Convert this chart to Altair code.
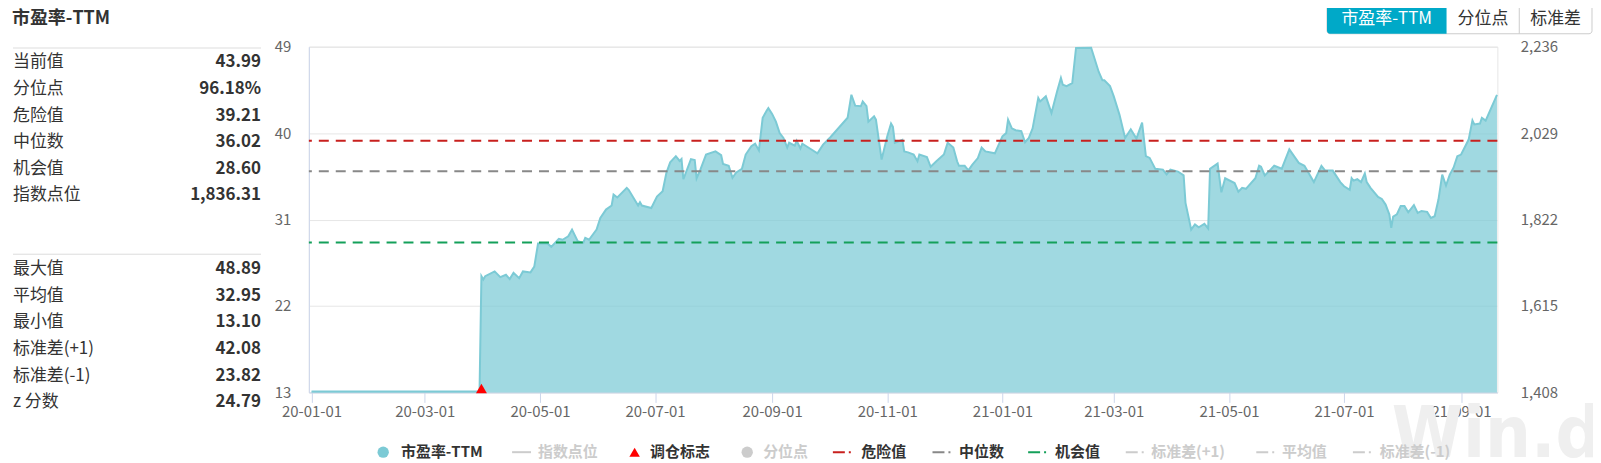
import altair as alt
import pandas as pd

FONT = "Noto Sans CJK SC"

# ---------------- data ----------------
START_DATE = "2020-01-01"
# trading-day offsets (days since START_DATE)
DAY_OFFSET = [
    0, 89, 90, 91, 92, 97, 100, 103, 105, 107, 110, 112, 116, 118, 120, 125, 127, 131, 133, 136,
    138, 141, 144, 145, 147, 151, 153, 156, 159, 160, 162, 167, 168, 173, 174, 175, 180, 183, 186, 188,
    190, 193, 195, 196, 197, 201, 203, 204, 206, 209, 214, 217, 218, 221, 223, 225, 228, 230, 233, 235,
    237, 239, 241, 242, 244, 246, 248, 250, 252, 253, 256, 257, 259, 260, 264, 268, 271, 275, 284, 286,
    288, 291, 292, 294, 295, 298, 299, 302, 305, 307, 308, 309, 313, 314, 316, 319, 321, 322, 326, 328,
    331, 335, 337, 340, 342, 343, 346, 348, 350, 353, 355, 357, 362, 366, 368, 369, 371, 373, 376, 378,
    380, 382, 385, 386, 389, 392, 395, 397, 398, 400, 403, 405, 413, 417, 419, 420, 423, 425, 428, 431,
    434, 437, 440, 442, 444, 447, 451, 453, 455, 459, 462, 463, 466, 468, 470, 473, 475, 476, 480, 481,
    482, 484, 489, 491, 493, 495, 500, 502, 503, 505, 510, 514, 518, 523, 526, 531, 535, 537, 541, 545,
    547, 550, 551, 552, 554, 556, 558, 559, 561, 565, 567, 569, 571, 572, 573, 575, 577, 579, 581, 584,
    586, 588, 591, 593, 595, 597, 599, 601, 603, 605, 607, 609, 613, 615, 616, 619, 620, 622, 628,
]
PE_TTM = [
    13.10, 13.10, 25.10, 24.76, 25.10, 25.60, 25.00, 25.25, 24.80, 25.45, 24.90, 25.60, 25.50, 26.10, 28.50, 28.50, 28.16, 29.00, 28.90, 29.26,
    29.96, 28.74, 28.60, 29.10, 28.90, 29.96, 31.17, 32.04, 32.46, 33.60, 33.30, 34.30, 34.10, 32.46, 32.80, 32.46, 32.20, 33.40, 33.95, 35.86,
    36.96, 37.60, 37.10, 37.30, 35.20, 37.30, 37.20, 35.30, 36.20, 37.77, 38.10, 37.70, 36.80, 36.60, 35.34, 35.90, 36.28, 37.77, 38.63, 38.90,
    38.20, 41.60, 42.30, 42.60, 42.00, 41.20, 40.00, 39.50, 38.50, 39.00, 38.70, 39.20, 38.40, 38.90, 38.40, 37.90, 38.80, 39.60, 41.60, 44.00,
    42.86, 42.80, 43.30, 42.80, 41.20, 41.75, 41.40, 37.25, 39.67, 41.00, 40.65, 39.00, 39.30, 38.10, 38.00, 37.77, 37.07, 37.77, 37.50, 36.50,
    37.07, 37.77, 39.00, 38.50, 37.07, 36.60, 36.60, 36.13, 36.70, 37.40, 38.50, 38.10, 37.90, 39.67, 40.00, 41.40, 40.50, 40.30, 40.20, 39.05,
    39.50, 40.50, 43.66, 43.30, 43.83, 42.10, 44.35, 45.75, 45.05, 44.90, 45.20, 48.87, 48.89, 46.40, 45.50, 45.50, 44.90, 43.83, 41.93, 39.50,
    40.40, 39.43, 41.10, 37.60, 37.42, 36.28, 36.20, 35.70, 36.20, 36.00, 35.60, 32.74, 29.96, 30.50, 30.20, 30.55, 30.07, 36.30, 36.83, 35.30,
    33.84, 35.30, 34.80, 33.90, 34.30, 34.20, 35.30, 36.60, 36.50, 35.60, 36.60, 36.30, 38.30, 36.90, 36.60, 34.90, 36.60, 36.10, 36.10, 34.90,
    34.47, 34.10, 35.30, 35.05, 35.20, 34.90, 35.80, 34.90, 34.30, 33.36, 33.15, 32.56, 31.52, 30.14, 31.30, 31.55, 32.40, 32.40, 31.75, 32.50,
    31.70, 31.90, 31.80, 31.17, 31.35, 33.08, 35.68, 34.55, 35.68, 36.40, 37.60, 37.77, 39.33, 41.33, 40.90, 41.00, 41.60, 41.30, 43.99,
]

DANGER = 39.21
MEDIAN = 36.02
CHANCE = 28.60
REBALANCE_DATE = "2020-03-31"
REBALANCE_PE = 13.10

LEFT_TICKS = [13, 22, 31, 40, 49]
RIGHT_TICKS = [1408, 1615, 1822, 2029, 2236]
X_TICK_MONTHS = [(2020, 1), (2020, 3), (2020, 5), (2020, 7), (2020, 9), (2020, 11),
                 (2021, 1), (2021, 3), (2021, 5), (2021, 7), (2021, 9)]

TITLE = "市盈率-TTM"
STAT_LABELS_TOP = ["当前值", "分位点", "危险值", "中位数", "机会值", "指数点位"]
STAT_VALUES_TOP = ["43.99", "96.18%", "39.21", "36.02", "28.60", "1,836.31"]
STAT_LABELS_BOTTOM = ["最大值", "平均值", "最小值", "标准差(+1)", "标准差(-1)", "z 分数"]
STAT_VALUES_BOTTOM = ["48.89", "32.95", "13.10", "42.08", "23.82", "24.79"]

BUTTONS = ["市盈率-TTM", "分位点", "标准差"]

LEGEND_LABELS = ["市盈率-TTM", "指数点位", "调仓标志", "分位点", "危险值", "中位数",
                 "机会值", "标准差(+1)", "平均值", "标准差(-1)"]
LEGEND_ACTIVE = [True, False, True, False, True, True, True, False, False, False]

# ---------------- styles / layout ----------------
AREA_COLOR = "#7ccad5"
RED = "#c8201e"
GREY = "#888888"
GREEN = "#14a05a"
OFF = "#cccccc"
TEXT = "#333333"
AXIS_TEXT = "#666666"
AXIS_LINE = "#ccd6eb"

W, H = 1193, 347
PAD = {"left": 302, "top": 38, "right": 96, "bottom": 70}

ROW_STEP = 26.7
ROW_Y_TOP = [15.7 + i * ROW_STEP for i in range(6)]
ROW_Y_BOTTOM = [223.3 + i * ROW_STEP for i in range(6)]
PANEL_LEFT, PANEL_RIGHT = -297, -48

LEG_Y = 407
LEG_TEXT_X = [92.5, 230, 342.5, 456, 554.5, 652.7, 749, 845.6, 976.8, 1075]

# ---------------- build ----------------
dates = pd.Timestamp(START_DATE) + pd.to_timedelta(DAY_OFFSET, unit="D")
df = pd.DataFrame({"date": dates, "pe": PE_TTM})

x_enc = alt.X(
    "date:T",
    scale=alt.Scale(domain=[alt.DateTime(year=2019, month=12, date=30, hours=14),
                            alt.DateTime(year=2021, month=9, date=20, hours=5)]),
    axis=alt.Axis(values=[alt.DateTime(year=y, month=m, date=1) for y, m in X_TICK_MONTHS],
                  format="%y-%m-%d", title=None, grid=False, tickSize=10, tickColor=AXIS_LINE,
                  domainColor=AXIS_LINE, labelPadding=2, labelFontSize=15, labelColor=AXIS_TEXT,
                  labelFont=FONT, labelFlush=False),
)
y_scale = alt.Scale(domain=[13, 49], nice=False, zero=False)
y_enc = alt.Y("pe:Q", scale=y_scale,
              axis=alt.Axis(values=LEFT_TICKS, title=None, grid=True, gridColor="#e6e6e6",
                            ticks=False, domainColor=AXIS_LINE, labelPadding=18, labelFontSize=15,
                            labelColor=AXIS_TEXT, labelFont=FONT))

area = alt.Chart(df).mark_area(color=AREA_COLOR, opacity=0.72).encode(
    x=x_enc, y=y_enc, y2=alt.Y2Datum(13))
line = alt.Chart(df).mark_line(color=AREA_COLOR, strokeWidth=2).encode(x=x_enc, y=y_enc)

def hline(v, color):
    return alt.Chart(pd.DataFrame({"pe": [v]})).mark_rule(
        color=color, strokeDash=[10, 7], strokeWidth=2).encode(y=alt.Y("pe:Q", scale=y_scale))

marker = alt.Chart(pd.DataFrame({"date": [pd.Timestamp(REBALANCE_DATE)], "pe": [REBALANCE_PE]})).mark_point(
    shape="triangle-up", filled=True, color="#ff0000", size=120, opacity=1, yOffset=-3
).encode(x=alt.X("date:T"), y=alt.Y("pe:Q", scale=y_scale))

main = alt.layer(area, line, hline(DANGER, RED), hline(MEDIAN, GREY), hline(CHANCE, GREEN), marker)

right = alt.Chart(pd.DataFrame({"date": [dates[0]] * len(RIGHT_TICKS), "idx": RIGHT_TICKS})).mark_point(
    opacity=0).encode(
    x=alt.X("date:T"),
    y=alt.Y("idx:Q", scale=alt.Scale(domain=[RIGHT_TICKS[0], RIGHT_TICKS[-1]], nice=False, zero=False),
            axis=alt.Axis(orient="right", values=RIGHT_TICKS, format=",",
                          labelExpr="format(datum.value, ',')", title=None, grid=False,
                          domain=False, ticks=False, labelPadding=23, labelFontSize=15,
                          labelColor=AXIS_TEXT, labelFont=FONT)))

one = pd.DataFrame({"a": [0]})

# watermark
watermark = alt.Chart(one).mark_text(
    text="Win.d", font="DejaVu Sans Condensed", fontWeight="bold",
    fontSize=72, color="#efefef", align="left", baseline="alphabetic").encode(
    x=alt.value(1087), y=alt.value(412))

# left panel
title = alt.Chart(one).mark_text(text=TITLE, font=FONT, fontSize=18, fontWeight="bold", color=TEXT,
                                 align="left", baseline="middle").encode(
    x=alt.value(-298), y=alt.value(-28))
sep = alt.Chart(pd.DataFrame({"py": [1.3, 208.3]})).mark_rule(color="#dddddd", strokeWidth=1).encode(
    x=alt.value(PANEL_LEFT), x2=alt.value(PANEL_RIGHT), y=alt.Y("py:Q", scale=None, axis=None))
panel_df = pd.DataFrame({
    "label": STAT_LABELS_TOP + STAT_LABELS_BOTTOM,
    "value": STAT_VALUES_TOP + STAT_VALUES_BOTTOM,
    "py": ROW_Y_TOP + ROW_Y_BOTTOM,
})
panel_labels = alt.Chart(panel_df).mark_text(font=FONT, fontSize=17, color=TEXT, align="left",
                                             baseline="middle").encode(
    x=alt.value(PANEL_LEFT), y=alt.Y("py:Q", scale=None, axis=None), text="label:N")
panel_values = alt.Chart(panel_df).mark_text(font=FONT, fontSize=17, fontWeight="bold", color=TEXT,
                                             align="right", baseline="middle").encode(
    x=alt.value(PANEL_RIGHT), y=alt.Y("py:Q", scale=None, axis=None), text="value:N")

# buttons
btn_box = alt.Chart(one).mark_rect(fill="white", stroke="#cccccc", strokeWidth=1, cornerRadius=3).encode(
    x=alt.value(1022), x2=alt.value(1288), y=alt.value(-42), y2=alt.value(-13))
btn_active = alt.Chart(one).mark_rect(fill="#00a9c8", cornerRadiusTopLeft=3,
                                      cornerRadiusBottomLeft=3).encode(
    x=alt.value(1022), x2=alt.value(1142), y=alt.value(-42), y2=alt.value(-13))
btn_sep = alt.Chart(one).mark_rule(color="#cccccc", strokeWidth=1).encode(
    x=alt.value(1215), y=alt.value(-42), y2=alt.value(-13))
btn_df = pd.DataFrame({"t": BUTTONS, "px": [1082, 1178.5, 1251.5], "c": ["white", TEXT, TEXT]})
btn_text = alt.Chart(btn_df).mark_text(font=FONT, fontSize=17, align="center", baseline="middle").encode(
    x=alt.X("px:Q", scale=None, axis=None), y=alt.value(-27.5), text="t:N",
    color=alt.Color("c:N", scale=None))

# legend
leg_df = pd.DataFrame({
    "t": LEGEND_LABELS,
    "px": LEG_TEXT_X,
    "c": [TEXT if a else OFF for a in LEGEND_ACTIVE],
})
leg_text = alt.Chart(leg_df).mark_text(font=FONT, fontSize=15, fontWeight="bold", align="left",
                                       baseline="middle").encode(
    x=alt.X("px:Q", scale=None, axis=None), y=alt.value(LEG_Y), text="t:N",
    color=alt.Color("c:N", scale=None))
leg_circles = alt.Chart(pd.DataFrame({"px": [74.6, 440], "c": [AREA_COLOR, OFF]})).mark_point(
    shape="circle", filled=True, size=130, opacity=1).encode(
    x=alt.X("px:Q", scale=None, axis=None), y=alt.value(LEG_Y), color=alt.Color("c:N", scale=None))
leg_tri = alt.Chart(one).mark_point(shape="triangle-up", filled=True, size=110, opacity=1,
                                    color="#ff0000").encode(x=alt.value(327), y=alt.value(LEG_Y))
leg_solid = alt.Chart(one).mark_rule(color=OFF, strokeWidth=2).encode(
    x=alt.value(204), x2=alt.value(223), y=alt.value(LEG_Y))
dash_df = pd.DataFrame({"px": [526, 626, 722, 820, 951, 1048],
                        "c": [RED, GREY, GREEN, OFF, OFF, OFF]})
dash_df["px2"] = dash_df["px"] + 18
leg_dash = alt.Chart(dash_df).mark_rule(strokeWidth=2, strokeDash=[12, 4, 2, 20]).encode(
    x=alt.X("px:Q", scale=None, axis=None), x2="px2:Q", y=alt.value(LEG_Y),
    color=alt.Color("c:N", scale=None))

chart = alt.layer(
    watermark, main, right, title, sep, panel_labels, panel_values,
    btn_box, btn_active, btn_sep, btn_text,
    leg_text, leg_circles, leg_tri, leg_solid, leg_dash,
).resolve_scale(y="independent").properties(
    width=W, height=H, padding=PAD, autosize=alt.AutoSizeParams(type="none"),
    background="white",
).configure_view(stroke="#e6e6e6", strokeWidth=1)

chart.save("out.html", embed_options={"renderer": "svg", "actions": False})
